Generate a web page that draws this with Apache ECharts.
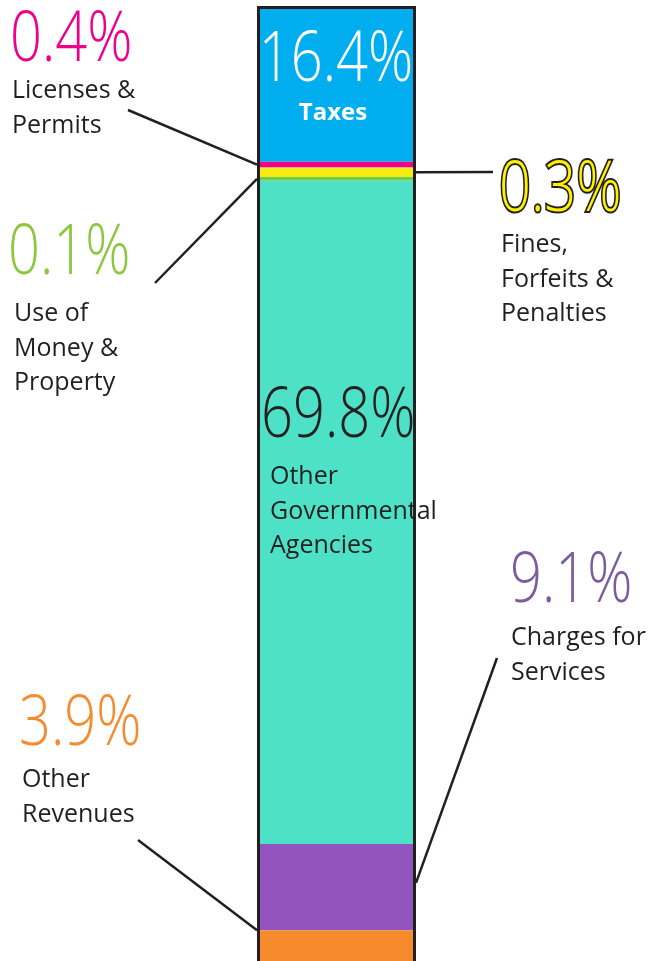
<!DOCTYPE html>
<html>
<head>
<meta charset="utf-8">
<script src="https://cdn.jsdelivr.net/npm/echarts@6/dist/echarts.min.js"></script>
<style>
  html, body { margin: 0; padding: 0; background: #fff; }
  #revenue { width: 652px; height: 961px; }
</style>
</head>
<body>
<div id="revenue"></div>
<script>
// revenue sources, top of the bar to the bottom
const categories = ['Taxes', 'Licenses & Permits', 'Fines, Forfeits & Penalties', 'Use of Money & Property',
  'Other Governmental Agencies', 'Charges for Services', 'Other Revenues']
const shareLabels = ['16.4%', '0.4%', '0.3%', '0.1%', '69.8%', '9.1%', '3.9%']
// band heights as drawn (the three tiny bands are widened in the source)
const bandHeights = [16.4, 0.6, 1.0, 0.4, 69.8, 9.1, 3.9]
const bandColors = ['#00AEEF', '#EC008C', '#F5EA14', '#6FCF4A', '#4DE2C8', '#9254BF', '#F68B2E']
const textLines = [['Taxes'], ['Licenses &', 'Permits'], ['Fines,', 'Forfeits &', 'Penalties'],
  ['Use of', 'Money &', 'Property'], ['Other', 'Governmental', 'Agencies'], ['Charges for', 'Services'],
  ['Other', 'Revenues']]
const pctColors = ['#FFFFFF', '#EC008C', '#FFF200', '#8DC63F', '#231F20', '#7B5C9F', '#F68B2E']

const dark = '#231F20'
const total = bandHeights.reduce((a, b) => a + b, 0)

// where each callout sits: [pct x, pct cap centre y, body x, first line cap centre y, align]
const callouts = [
  [336, 56, 333, 113, 'center'],
  [10, 36, 12, 91, 'left'],
  [499, 186, 501, 245, 'left'],
  [8, 249, 14, 314, 'left'],
  [261, 412, 270, 477, 'left'],
  [510, 577, 511, 638, 'left'],
  [19, 720, 22, 780, 'left']
]
// leader lines: outer end, bar side, position inside the band (0 = top, 1 = bottom)
const leaders = [
  [1, [128, 110], 'left', 0.5],
  [3, [155, 283], 'left', 0.5],
  [2, [493, 172], 'right', 0.5],
  [5, [497, 658], 'right', 0.45],
  [6, [138, 840], 'left', 0]
]

const chart = echarts.init(document.getElementById('revenue'))

const series = bandHeights.map((v, i) => ({
  name: categories[i],
  type: 'bar',
  stack: 'rev',
  barWidth: '100%',
  data: [v],
  itemStyle: { color: bandColors[i] },
  silent: true
}))
// outline round the whole bar
series.push({
  name: 'outline',
  type: 'bar',
  barWidth: '100%',
  barGap: '-100%',
  z: 5,
  data: [total],
  itemStyle: { color: 'transparent', borderColor: dark, borderWidth: 3 },
  silent: true
})

chart.setOption({
  animation: false,
  grid: { left: 257, width: 159, top: 6, height: 961.4, outerBoundsMode: 'none' },
  xAxis: { type: 'category', data: ['revenue'], show: false },
  yAxis: { type: 'value', inverse: true, min: 0, max: total, show: false },
  series: series
})

const rect = chart.getModel().getComponent('grid').coordinateSystem.getRect()
const graphic = []

callouts.forEach((c, i) => {
  const pct = {
    type: 'text',
    x: c[0],
    y: c[1] + 5,
    scaleX: 0.8,
    z: 10,
    style: {
      text: shareLabels[i],
      fill: pctColors[i],
      fontFamily: "'Open Sans', sans-serif",
      fontWeight: 300,
      fontSize: 70,
      align: c[4],
      verticalAlign: 'middle'
    }
  }
  if (i === 2) {
    pct.style.stroke = dark
    pct.style.lineWidth = 4
    pct.style.strokeFirst = true
  }
  graphic.push(pct)
  textLines[i].forEach((line, k) => {
    graphic.push({
      type: 'text',
      x: c[2],
      y: c[3] + k * 34.5,
      z: 10,
      style: {
        text: line,
        fill: i === 0 ? '#FFFFFF' : dark,
        fontFamily: "'Open Sans', sans-serif",
        fontWeight: i === 0 ? 'bold' : 'normal',
        fontSize: i === 0 ? 24 : 25,
        align: c[4],
        verticalAlign: 'middle'
      }
    })
  })
})

leaders.forEach(l => {
  const idx = l[0]
  let start = 0
  for (let k = 0; k < idx; k++) start += bandHeights[k]
  const y = chart.convertToPixel({ gridIndex: 0 }, [0, start + bandHeights[idx] * l[3]])[1]
  const x = l[2] === 'left' ? rect.x : rect.x + rect.width
  graphic.push({
    type: 'line',
    z: 8,
    shape: { x1: l[1][0], y1: l[1][1], x2: x, y2: y },
    style: { stroke: dark, lineWidth: 2.5 }
  })
})

chart.setOption({ graphic: graphic })
</script>
</body>
</html>
